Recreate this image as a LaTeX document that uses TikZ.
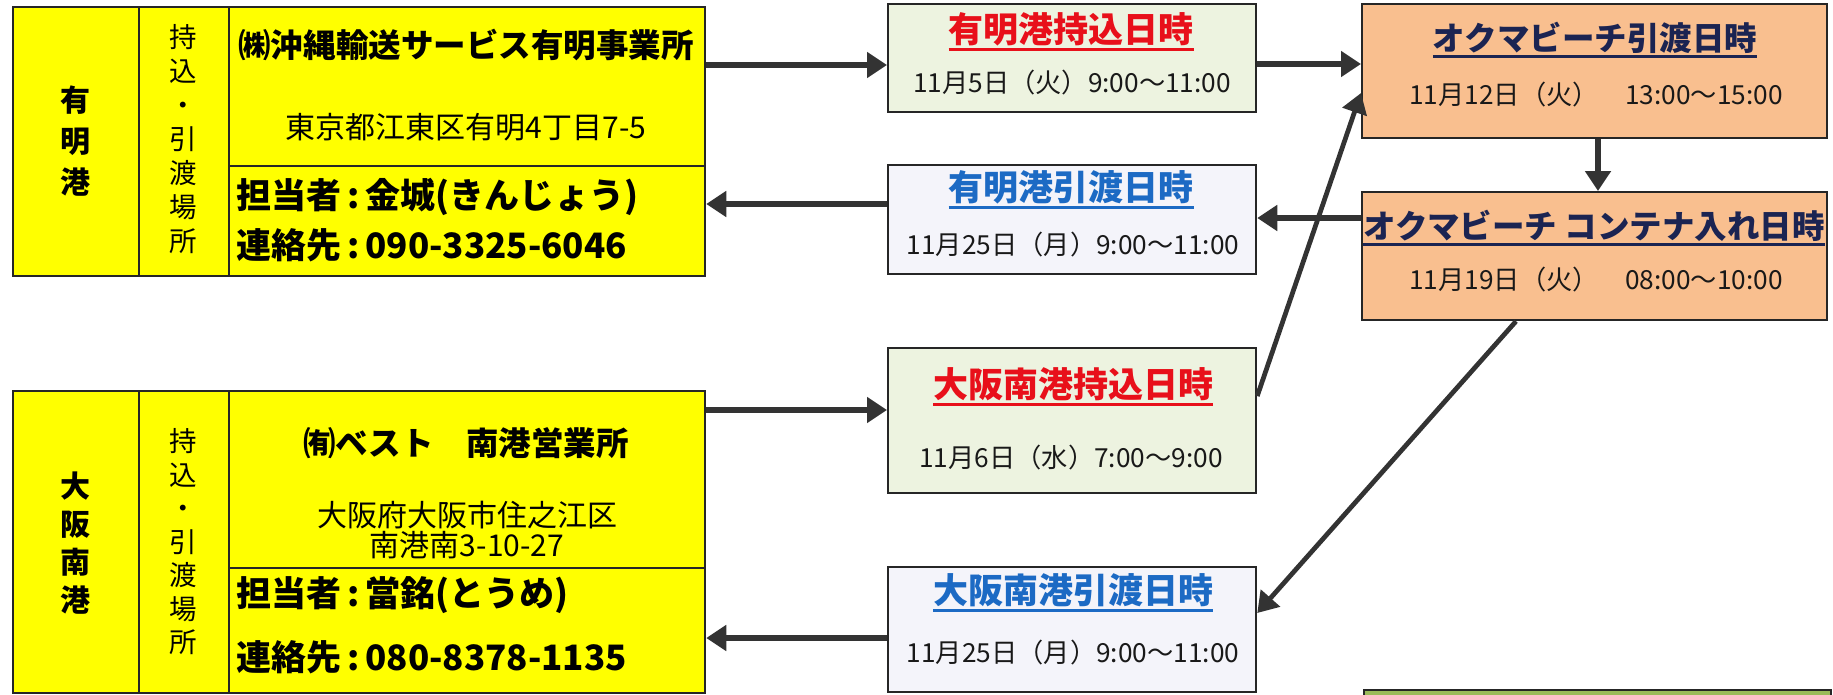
\documentclass[tikz,border=0pt]{standalone}
\usepackage{fontspec}
\setmainfont{Noto Sans CJK JP}
\usetikzlibrary{arrows.meta}

\definecolor{boxyellow}{HTML}{FFFF00}
\definecolor{boxgreen}{HTML}{EDF3E0}
\definecolor{boxblue}{HTML}{F4F4FA}
\definecolor{boxorange}{HTML}{F9BF8F}
\definecolor{boxolive}{HTML}{9BBB59}
\definecolor{titlered}{HTML}{E8101A}
\definecolor{titleblue}{HTML}{1C6AC4}
\definecolor{titlenavy}{HTML}{1B2452}
\definecolor{arrowgray}{HTML}{333333}

\newcommand{\ulined}[1]{\leavevmode\setbox0=\hbox{#1}\dimen0=\wd0\rlap{\box0}\vrule height -0.16em depth 0.24em width \dimen0}

\begin{document}
\begin{tikzpicture}[x=0.4pt, y=-0.4pt,
    cell/.style={draw=black!85, line width=0.9pt, inner sep=0pt, anchor=north west, fill=boxyellow},
    midbox/.style={cell, minimum width=147.2pt},
    okbox/.style={cell, fill=boxorange, minimum width=186pt},
    ttl/.style={font=\bfseries\fontsize{14}{16}\selectfont, inner sep=0pt},
    okttl/.style={ttl, text=titlenavy, font=\bfseries\fontsize{13}{15}\selectfont},
    when/.style={font=\fontsize{10.5}{12}\selectfont, text=black!90, inner sep=0pt},
    contact/.style={font=\bfseries\fontsize{14}{16}\selectfont, anchor=west, inner sep=0pt},
    flow/.style={draw=arrowgray, line width=2.4pt, -{Triangle[length=8pt,width=10pt]}},
    slant/.style={flow, line width=1.9pt}]
    \useasboundingbox (0,0) rectangle (1833,694);

    \node[cell, minimum width=50.4pt, minimum height=107.6pt] (port1) at (12,6) {};
    \node[cell, minimum width=36pt, minimum height=107.6pt] (mode1) at (138,6) {};
    \node[cell, minimum width=190.4pt, minimum height=63.6pt] (office1) at (228,6) {};
    \node[cell, minimum width=190.4pt, minimum height=44pt] (contact1) at (228,165) {};

    \node[cell, minimum width=50.4pt, minimum height=120.8pt] (port2) at (12,390) {};
    \node[cell, minimum width=36pt, minimum height=120.8pt] (mode2) at (138,390) {};
    \node[cell, minimum width=190.4pt, minimum height=70.8pt] (office2) at (228,390) {};
    \node[cell, minimum width=190.4pt, minimum height=50pt] (contact2) at (228,567) {};

    \node[align=center, font=\bfseries\fontsize{12}{16.4}\selectfont] (port1t) at (75,141) {有\\明\\港};
    \node[align=center, font=\fontsize{11}{13.6}\selectfont] (mode1t) at (183,139) {持\\込\\・\\引\\渡\\場\\所};
    \node[font=\bfseries\fontsize{13}{15}\selectfont] (office1t) at (466,45) {㈱沖縄輸送サービス有明事業所};
    \node[font=\fontsize{12}{14}\selectfont] (addr1) at (466,127) {東京都江東区有明4丁目7-5};
    \node[contact] (staff1) at (236,197) {担当者\,:\,金城(きんじょう)};
    \node[contact] (tel1) at (236,245) {連絡先\,:\,090-3325-6046};

    \node[align=center, font=\bfseries\fontsize{12}{15.2}\selectfont] (port2t) at (75,543) {大\\阪\\南\\港};
    \node[align=center, font=\fontsize{11}{13.4}\selectfont] (mode2t) at (183,542) {持\\込\\・\\引\\渡\\場\\所};
    \node[font=\bfseries\fontsize{13}{15}\selectfont] (office2t) at (466,443) {㈲ベスト　南港営業所};
    \node[align=center, font=\fontsize{12}{12}\selectfont] (addr2) at (467,530) {大阪府大阪市住之江区\\南港南3-10-27};
    \node[contact] (staff2) at (236,595) {担当者\,:\,當銘(とうめ)};
    \node[contact] (tel2) at (236,657) {連絡先\,:\,080-8378-1135};

    \node[midbox, fill=boxgreen, minimum height=43.2pt] (g1) at (887,3) {};
    \node[midbox, fill=boxblue, minimum height=43.6pt] (b1) at (887,164) {};
    \node[midbox, fill=boxgreen, minimum height=58pt] (g2) at (887,347) {};
    \node[midbox, fill=boxblue, minimum height=50pt] (b2) at (887,566) {};

    \node[ttl, text=titlered] (g1t) at (1071,32) {\ulined{有明港持込日時}};
    \node[when] (g1d) at (1072,83) {11月5日（火）9:00～11:00};
    \node[ttl, text=titleblue] (b1t) at (1071,190) {\ulined{有明港引渡日時}};
    \node[when] (b1d) at (1073,245) {11月25日（月）9:00～11:00};
    \node[ttl, text=titlered] (g2t) at (1073,387) {\ulined{大阪南港持込日時}};
    \node[when] (g2d) at (1071,458) {11月6日（水）7:00～9:00};
    \node[ttl, text=titleblue] (b2t) at (1073,593) {\ulined{大阪南港引渡日時}};
    \node[when] (b2d) at (1073,653) {11月25日（月）9:00～11:00};

    \node[okbox, minimum height=53.6pt] (o1) at (1361,3) {};
    \node[okbox, minimum height=51.2pt] (o2) at (1361,191) {};
    \node[cell, fill=boxolive, minimum width=186.8pt, minimum height=28.4pt] (o3) at (1363,689) {};

    \node[okttl] (o1t) at (1595,40) {\ulined{オクマビーチ引渡日時}};
    \node[when] (o1d) at (1596,95) {11月12日（火）　13:00～15:00};
    \node[okttl] (o2t) at (1594,228) {\ulined{オクマビーチ コンテナ入れ日時}};
    \node[when] (o2d) at (1596,280) {11月19日（火）　08:00～10:00};

    \draw[flow] (office1.east |- 0,65) -- (g1.west |- 0,65);
    \draw[flow] (g1.east |- 0,64) -- (o1.west |- 0,64);
    \draw[flow] (b1.west |- 0,204) -- (contact1.east |- 0,204);
    \draw[flow] (o2.west |- 0,218) -- (b1.east |- 0,218);
    \draw[flow] (1598,0 |- o1.south) -- (1598,0 |- o2.north);
    \draw[slant] (g2.east |- 0,396) -- (o1.west |- 0,93);
    \draw[flow] (office2.east |- 0,410) -- (g2.west |- 0,410);
    \draw[slant] (1516,0 |- o2.south) -- (b2.east |- 0,613);
    \draw[flow] (b2.west |- 0,638) -- (contact2.east |- 0,638);
\end{tikzpicture}
\end{document}
